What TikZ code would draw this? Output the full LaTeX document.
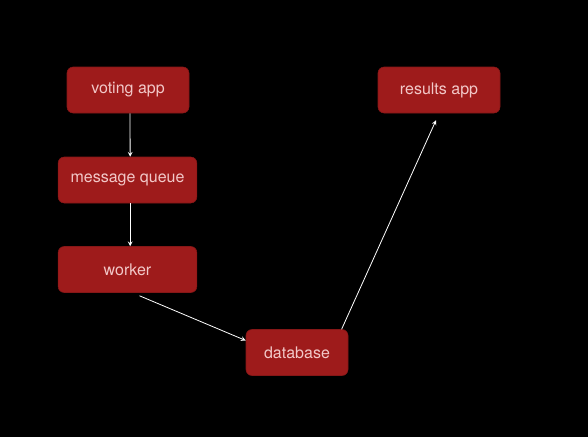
\documentclass[tikz,border=0pt]{standalone}
\usepackage{fontspec}
\setmainfont{TeX Gyre Heros}
\usepackage{tikz}
\usetikzlibrary{arrows}

\definecolor{boxred}{RGB}{158,27,27}
\definecolor{boxtext}{RGB}{242,200,200}

\tikzset{
    service/.style={draw=boxred!85!black, fill=boxred, rounded corners=4.5pt,
        text=boxtext, font=\fontsize{12}{14}\selectfont,
        minimum height=34.5pt, inner sep=0pt},
    flow/.style={draw=white, line width=0.6pt, ->, >=stealth}
}

\begin{document}
\begin{tikzpicture}[x=0.75pt,y=-0.75pt]

\fill[black] (0,0) rectangle (588,437);
\useasboundingbox (0,0) rectangle (588,437);

\node[service, minimum width=91.5pt] (voting) at (128,90) {voting app};
\node[service, minimum width=104pt] (queue) at (127.5,180) {message queue};
\node[service, minimum width=104pt] (worker) at (127.5,269.5) {worker};
\node[service, minimum width=76.5pt] (database) at (297,352.5) {database};
\node[service, minimum width=91.5pt] (results) at (439,90) {results app};

\draw[flow] ([xshift=1.5pt]voting.south) -- ([xshift=2pt]queue.north);
\draw[flow] ([xshift=2pt]queue.south) -- ([xshift=2pt]worker.north);
\draw[flow] ([shift={(12,3)}]worker.south) -- ([yshift=9pt]database.west);
\draw[flow] ([xshift=-5pt]database.north east) -- ([shift={(-3,7)}]results.south);

\end{tikzpicture}
\end{document}
